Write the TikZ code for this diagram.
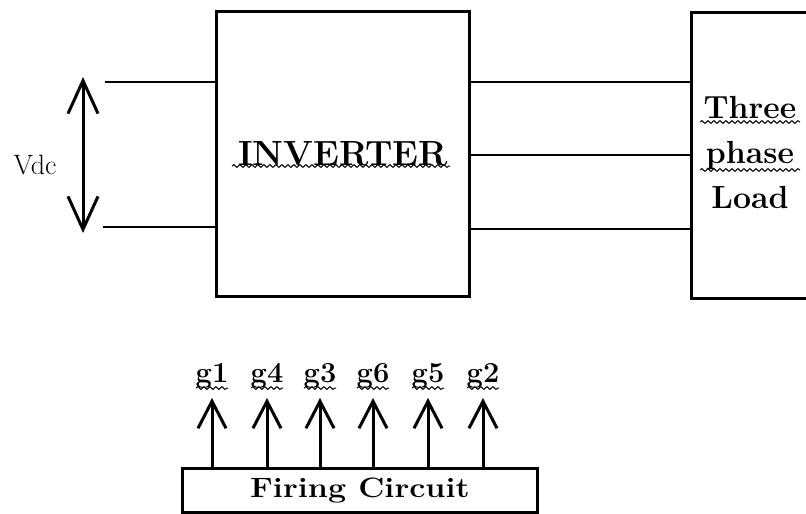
\documentclass[tikz,border=0pt]{standalone}
\usetikzlibrary{arrows.meta,decorations.pathmorphing}
\begin{document}
\begin{tikzpicture}[x=1pt,y=-1pt,
  box/.style={draw,line width=3pt,inner sep=0pt,anchor=north west},
  wire/.style={line width=2.5pt},
  sig/.style={line width=3pt,-{Straight Barb[length=27pt,width=28pt]}},
  wavy/.style={decorate,decoration={snake,segment length=6pt,amplitude=1.4pt},line width=1pt},
  bigtxt/.style={font=\fontsize{35}{40}\selectfont\bfseries},
  loadtxt/.style={font=\fontsize{32}{36}\selectfont\bfseries,anchor=base},
  gtxt/.style={font=\fontsize{29}{32}\selectfont\bfseries,anchor=base,inner sep=0pt}]
\useasboundingbox (0,0) rectangle (806,514);
% blocks
\node[box,minimum width=253pt,minimum height=285pt,bigtxt] (inv) at (215,10) {INVERTER};
\node[box,minimum width=150pt,minimum height=286pt] (load) at (690,11) {};
\node[loadtxt] (t1) at (750,118) {Three};
\node[loadtxt] (t2) at (750,163) {phase};
\node[loadtxt] (t3) at (750,208) {Load};
\node[box,minimum width=355pt,minimum height=44pt,
      font=\fontsize{28}{30}\selectfont\bfseries] (fc) at (181,467) {\scalebox{1.15}[1]{Firing Circuit}};
% DC input
\node[font=\fontsize{28}{30}\selectfont] (vdc) at (35,165) {Vdc};
\coordinate (vt) at (83,77);
\coordinate (vb) at (83,233);
\draw[line width=3pt,{Straight Barb[length=33pt,width=30pt]}-{Straight Barb[length=33pt,width=30pt]}] (vt) -- (vb);
\coordinate (a1) at (105,82);
\coordinate (a2) at (103,227);
\draw[wire] (a1) -- (a1 -| inv.west);
\draw[wire] (a2) -- (a2 -| inv.west);
% outputs
\coordinate (o1) at (0,82);
\coordinate (o2) at (0,155);
\coordinate (o3) at (0,229);
\foreach \o in {o1,o2,o3}{\draw[wire] (inv.east |- \o) -- (load.west |- \o);}
% gate signals
\foreach \x/\n in {212/1,267/4,320/3,373/6,428/5,483/2}{
  \node[gtxt] (g\n) at (\x,382) {g\n};
  \draw[sig] (fc.north -| g\n) -- ([yshift=-16pt]g\n.base);
  \draw[wavy] (\x-16,388) -- (\x+16,388);
}
% spell-check underlines
\draw[wavy] (232,166) -- (450,166);
\draw[wavy] (700,122) -- (800,122);
\draw[wavy] (700,170) -- (800,170);
\end{tikzpicture}
\end{document}
